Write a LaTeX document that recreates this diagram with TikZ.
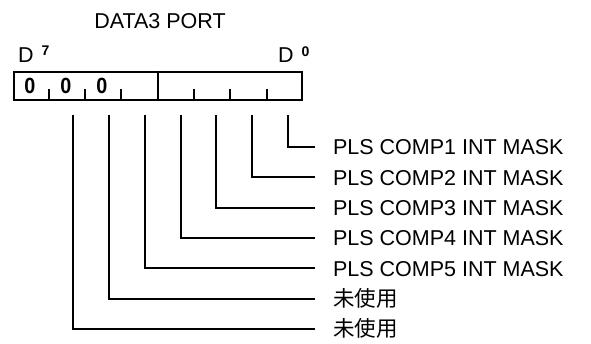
\documentclass[tikz,border=0pt]{standalone}
\usepackage{fontspec}
\setmainfont{Liberation Sans}
\newfontfamily\cjk{Noto Sans CJK JP}
\newfontfamily\narrowfont[FakeStretch=0.9]{Liberation Sans}
\usetikzlibrary{calc}

\begin{document}
\begin{tikzpicture}[x=1pt, y=-1pt, line width=2pt,
  txt/.style={inner sep=0pt, font=\fontsize{21.5}{24}\selectfont},
  lbl/.style={txt, anchor=west, text height=15.5pt, text depth=0pt},
  sup/.style={inner sep=0pt, anchor=north west, font=\bfseries\fontsize{14}{15}\selectfont}]

  \useasboundingbox (0,0) rectangle (591,343);

  % 标题
  \node[txt] (title) at (160,21) {DATA3 PORT};

  % 寄存器框 D7 ... D0
  \node[draw, line width=2.5pt, inner sep=0pt, minimum width=288pt, minimum height=28pt,
        anchor=north west] (reg) at (12.5,70.5) {};
  \foreach \k in {1,2,3,5,6,7} {
    \draw ($(reg.south west)!\k/8!(reg.south east)$) -- ++(0,-12);
  }
  \draw (reg.north) -- (reg.south);

  % 高三位固定为 0
  \foreach \k in {0,1,2} {
    \node[txt, font=\narrowfont\bfseries\fontsize{22}{24}\selectfont] (z\k) at ($(reg.west)+(17.5+36*\k,0)$) {0};
  }

  % 位标注
  \node[txt, anchor=base west] (d7) at (17,62) {D};
  \node[sup] (s7) at (40.5,45) {7};
  \node[txt, anchor=base west] (d0) at (277,62) {D};
  \node[sup] (s0) at (300.5,45.5) {0};

  % 各位引出线与说明
  \foreach \i/\t in {0/PLS COMP1 INT MASK, 1/PLS COMP2 INT MASK, 2/PLS COMP3 INT MASK,
                     3/PLS COMP4 INT MASK, 4/PLS COMP5 INT MASK,
                     5/{\cjk 未使用}, 6/{\cjk 未使用}} {
    \coordinate (b\i) at (288-35.8*\i,115);
    \node[lbl] (m\i) at (332,147+30.33*\i) {\t};
    \draw (b\i) |- ([xshift=-17pt]m\i.west);
  }

\end{tikzpicture}
\end{document}
